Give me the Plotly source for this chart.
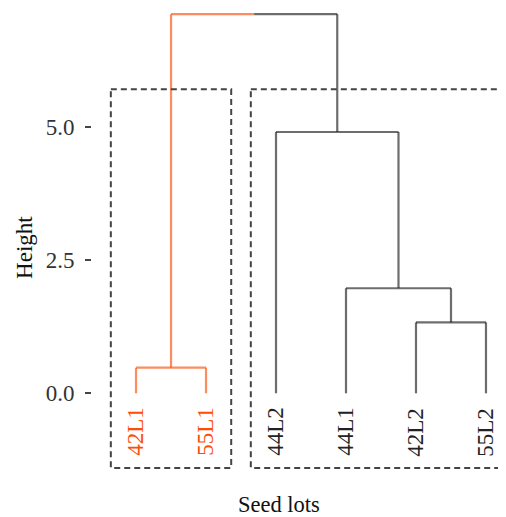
import plotly.graph_objects as go

# ---- data ----
leaf_labels = ["42L1", "55L1", "44L2", "44L1", "42L2", "55L2"]
leaf_cluster = [0, 0, 1, 1, 1, 1]
# merges: (left node, right node, height); nodes 0..5 are leaves, 6.. are merges in order
merges = [
    (0, 1, 0.48),   # node 6
    (4, 5, 1.33),   # node 7
    (3, 7, 1.97),   # node 8
    (2, 8, 4.90),   # node 9
    (6, 9, 7.11),   # node 10 (root)
]
cluster_colors = ["#FC4E07", "#222222"]
branch_colors = ["rgba(252,78,7,0.65)", "rgba(20,20,20,0.62)"]
y_ticks = [0.0, 2.5, 5.0]
rect_top = 5.7
rect_bottom = -1.4

FONT = "Liberation Serif"

# ---- compute node positions ----
node_x = [i + 1 for i in range(len(leaf_labels))]
node_y = [0.0] * len(leaf_labels)
node_cl = list(leaf_cluster)
for l, r, h in merges:
    node_x.append((node_x[l] + node_x[r]) / 2)
    node_y.append(h)
    node_cl.append(node_cl[l] if node_cl[l] == node_cl[r] else None)

fig = go.Figure()

def seg(xs, ys, color, dash=None, width=2.2):
    fig.add_trace(go.Scatter(x=xs, y=ys, mode="lines",
                             line=dict(color=color, width=width, dash=dash),
                             hoverinfo="skip", showlegend=False))

for i, (l, r, h) in enumerate(merges):
    nid = len(leaf_labels) + i
    mx = node_x[nid]
    for child in (l, r):
        c = node_cl[child]
        col = branch_colors[c] if c is not None else branch_colors[1]
        seg([node_x[child], node_x[child]], [node_y[child], h], col)
        seg([node_x[child], mx], [h, h], col)

# ---- dashed cluster rectangles ----
for c in range(len(cluster_colors)):
    idx = [i + 1 for i, k in enumerate(leaf_cluster) if k == c]
    x0, x1 = min(idx) - 0.36, max(idx) + 0.36
    seg([x0, x1, x1, x0, x0], [rect_top, rect_top, rect_bottom, rect_bottom, rect_top],
        "#444444", dash="6px,4px", width=2)

# ---- leaf labels ----
annotations = []
for i, lab in enumerate(leaf_labels):
    annotations.append(dict(x=i + 1, y=0, xref="x", yref="y", text=lab,
                            textangle=-90, showarrow=False, xanchor="center",
                            yanchor="top", yshift=-12,
                            font=dict(family=FONT, size=23,
                                      color=cluster_colors[leaf_cluster[i]])))
annotations.append(dict(x=-0.162, y=0.4915, xref="paper", yref="paper", text="Height",
                        textangle=-90, showarrow=False, xanchor="center", yanchor="middle",
                        font=dict(family=FONT, size=23, color="#111111")))
annotations.append(dict(x=0.452, y=-0.057, xref="paper", yref="paper", text="Seed lots",
                        showarrow=False, xanchor="center", yanchor="middle",
                        font=dict(family=FONT, size=22.5, color="#111111")))

fig.update_layout(
    width=498, height=509,
    margin=dict(l=84, r=0, t=0, b=39),
    paper_bgcolor="white", plot_bgcolor="white",
    annotations=annotations,
    xaxis=dict(range=[0.371, 6.286], showticklabels=False, ticks="", showgrid=False,
               zeroline=False, showline=False),
    yaxis=dict(range=[-1.588, 7.225], tickvals=y_ticks, tickformat=".1f",
               ticks="outside", ticklen=6, tickwidth=2, tickcolor="#444444",
               ticklabelstandoff=6,
               tickfont=dict(family=FONT, size=23, color="#333333"),
               showgrid=False, zeroline=False, showline=False),
)

fig.write_html("out.html")
